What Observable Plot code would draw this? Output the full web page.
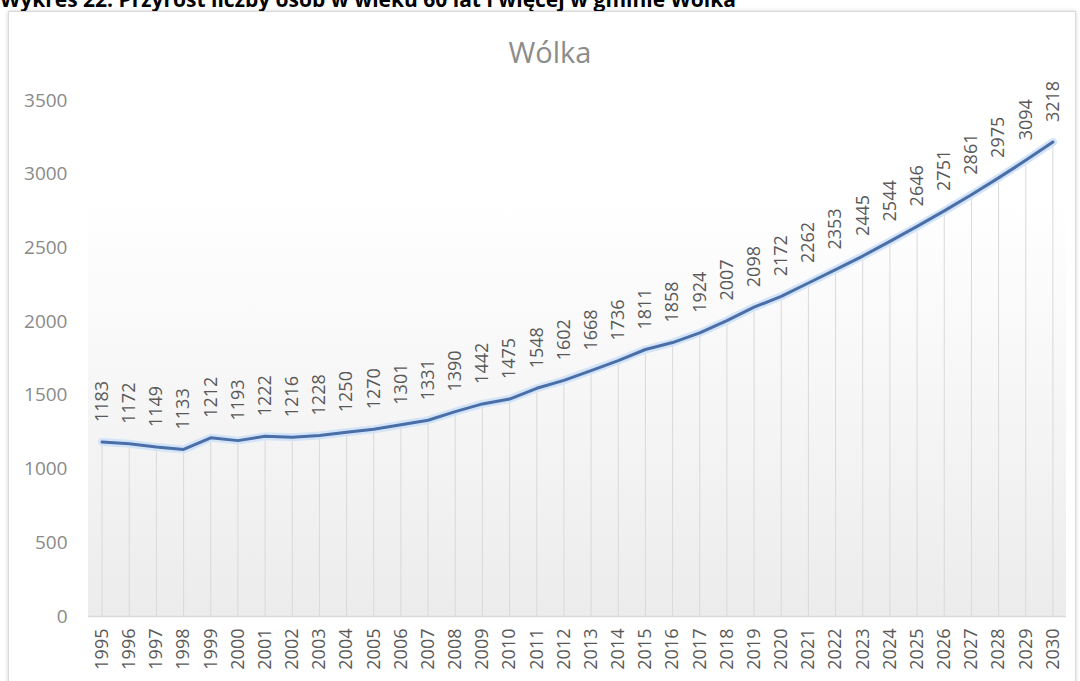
<!DOCTYPE html>
<html><head><meta charset="utf-8">
<script src="https://cdn.jsdelivr.net/npm/d3@7"></script>
<script src="https://cdn.jsdelivr.net/npm/@observablehq/plot@0.6"></script>
<style>
body{margin:0;background:#fff;width:1080px;height:681px;overflow:hidden;position:relative;font-family:"Open Sans",sans-serif}
#title{position:absolute;left:0;top:-14px;font-weight:bold;font-size:21px;line-height:26px;white-space:nowrap;color:#000}
#box{position:absolute;left:8px;top:11px;width:1066px;height:680px;border:1px solid #d9d9d9;box-shadow:0 0 4px rgba(0,0,0,0.18);background:#fff}
#sub{position:absolute;left:0;width:1082px;top:20px;text-align:center;font-size:29px;line-height:40px;color:#8c8c8c}
#chart{position:absolute;left:0;top:0}
</style>
</head><body>
<div id="title">Wykres 22. Przyrost liczby osób w wieku 60 lat i więcej w gminie Wólka</div>
<div id="box"><div id="chart"></div><div id="sub">Wólka</div></div>
<script>
const years = [1995,1996,1997,1998,1999,2000,2001,2002,2003,2004,2005,2006,2007,2008,2009,2010,2011,2012,2013,2014,2015,2016,2017,2018,2019,2020,2021,2022,2023,2024,2025,2026,2027,2028,2029,2030];
const values = [1183,1172,1149,1133,1212,1193,1222,1216,1228,1250,1270,1301,1331,1390,1442,1475,1548,1602,1668,1736,1811,1858,1924,2007,2098,2172,2262,2353,2445,2544,2646,2751,2861,2975,3094,3218];
const yTicks = [0,500,1000,1500,2000,2500,3000,3500];
const data = years.map((year, i) => ({year, value: values[i]}));

const plot = Plot.plot({
  width: 1066,
  height: 669,
  marginTop: 88,
  marginBottom: 65,
  marginLeft: 79,
  marginRight: 9,
  style: {fontFamily: '"Open Sans", sans-serif', background: "transparent", overflow: "visible"},
  x: {type: "linear", domain: [1994.5, 2030.5], label: null},
  y: {domain: [0, 3500], label: null},
  marks: [
    Plot.rect([0], {x1: 1994.5, x2: 2030.5, y1: 0, y2: 2820, fill: "url(#bgGrad)"}),
    Plot.ruleX(data, {x: "year", y1: 0, y2: "value", stroke: "#d9d9d9", strokeWidth: 1}),
    Plot.ruleY([0], {stroke: "#d9d9d9", strokeWidth: 1.5}),
    Plot.line(data, {x: "year", y: "value", stroke: "#d3e4f8", strokeWidth: 8, strokeLinejoin: "round"}),
    Plot.line(data, {x: "year", y: "value", stroke: "#4a6ea8", strokeWidth: 3, strokeLinejoin: "round"}),
    Plot.text(data, {x: "year", y: "value", text: d => String(d.value), rotate: -90, textAnchor: "start", lineAnchor: "middle", dy: -20, fill: "#595959", fontSize: 18}),
    Plot.axisX({ticks: years, tickFormat: d => String(d), tickRotate: -90, tickSize: 0, tickPadding: 12, fontSize: 18, color: "#595959", label: null}),
    Plot.axisY({ticks: yTicks, tickFormat: d => String(d), tickSize: 0, tickPadding: 21, fontSize: 19, color: "#8a8a8a", label: null})
  ]
});
const defs = d3.select(plot).insert("defs", ":first-child");
const g = defs.append("linearGradient").attr("id", "bgGrad").attr("x1", 0).attr("y1", 0).attr("x2", 0).attr("y2", 1);
g.append("stop").attr("offset", 0).attr("stop-color", "#ffffff");
g.append("stop").attr("offset", 1).attr("stop-color", "#ececec");
document.getElementById("chart").appendChild(plot);
</script>
</body></html>
